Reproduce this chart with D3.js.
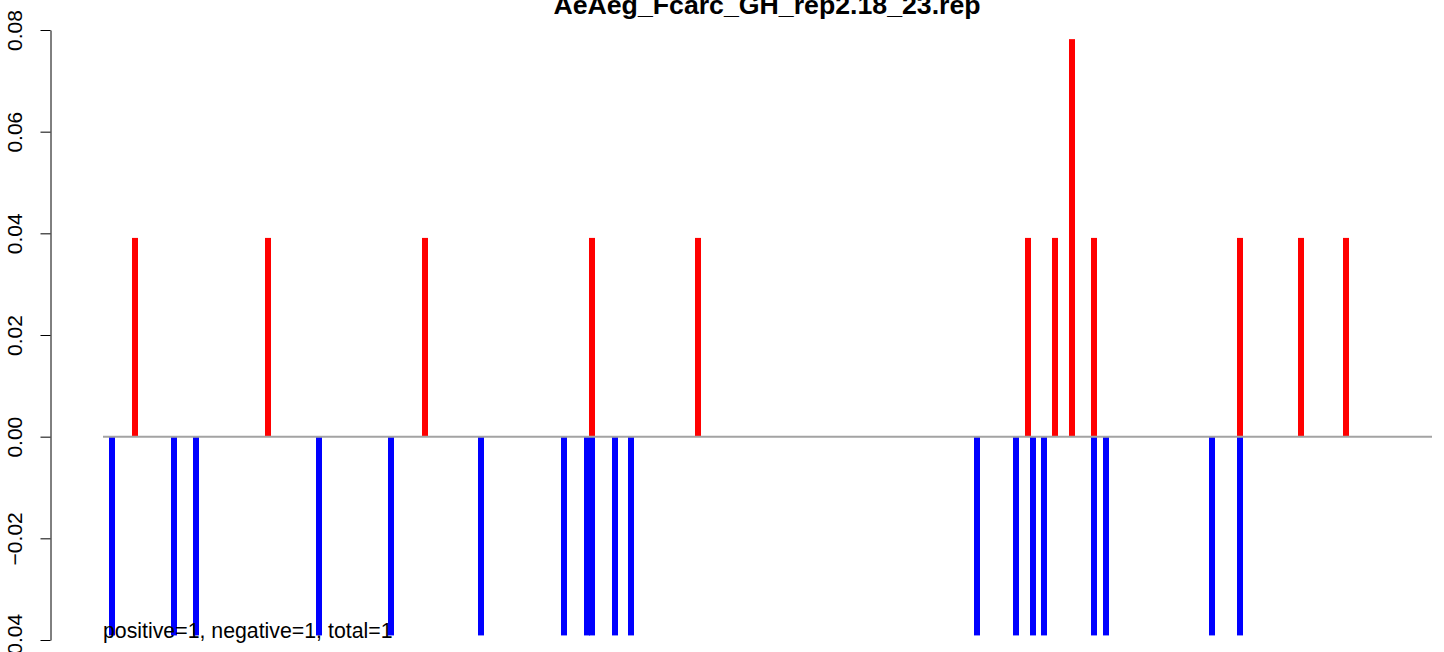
<!DOCTYPE html>
<html>
<head>
<meta charset="utf-8">
<script src="https://cdn.jsdelivr.net/npm/d3@7"></script>
<style>
  html, body { margin: 0; padding: 0; background: #fff; }
  svg { display: block; font-family: "Liberation Sans", Arial, Helvetica, sans-serif; }
</style>
</head>
<body>
<svg id="chart" width="1444" height="652"></svg>
<script>
// ---- data ----
const title = "AeAeg_Fcarc_GH_rep2.18_23.rep";
const footnote = "positive=1, negative=1, total=1";
const xExtent = [0, 1329];
const yTicks = [-0.04, -0.02, 0.00, 0.02, 0.04, 0.06, 0.08];

const positivePos = [32, 165, 322, 489, 595, 925, 952, 969, 991, 1137, 1198, 1243];
const positiveVal = [0.0391, 0.0391, 0.0391, 0.0391, 0.0391, 0.0391, 0.0391, 0.0782, 0.0391, 0.0391, 0.0391, 0.0391];

const negativePos = [9, 71, 93, 216, 288, 378, 461, 484, 489, 512, 528, 874, 913, 930, 941, 991, 1003, 1109, 1137];
const negativeVal = [-0.0391, -0.0391, -0.0391, -0.0391, -0.0391, -0.0391, -0.0391, -0.0391, -0.0391, -0.0391,
                     -0.0391, -0.0391, -0.0391, -0.0391, -0.0391, -0.0391, -0.0391, -0.0391, -0.0391];

// ---- layout ----
const svg = d3.select("#chart");
const x = d3.scaleLinear().domain(xExtent).range([103, 1432]);
const y = d3.scaleLinear().domain([-0.04, 0.08]).range([640, 30]);
const barW = 6;

const pos = positivePos.map((p, i) => ({p, v: positiveVal[i]}));
const neg = negativePos.map((p, i) => ({p, v: negativeVal[i]}));

// bars
svg.append("g").selectAll("rect").data(pos).join("rect")
  .attr("x", d => x(d.p) - barW / 2)
  .attr("width", barW)
  .attr("y", d => y(d.v))
  .attr("height", d => y(0) - y(d.v))
  .attr("fill", "#ff0000");

svg.append("g").selectAll("rect").data(neg).join("rect")
  .attr("x", d => x(d.p) - barW / 2)
  .attr("width", barW)
  .attr("y", y(0))
  .attr("height", d => y(d.v) - y(0))
  .attr("fill", "#0000ff");

// zero line
svg.append("line")
  .attr("x1", x(xExtent[0])).attr("x2", x(xExtent[1]))
  .attr("y1", y(0)).attr("y2", y(0))
  .attr("stroke", "#a3a3a3").attr("stroke-width", 2);

// y axis
const yAxis = d3.axisLeft(y)
  .tickValues(yTicks)
  .tickFormat(d3.format(".2f"))
  .tickSize(10)
  .tickSizeOuter(0);

const gy = svg.append("g").attr("transform", "translate(50.5,0)").call(yAxis);
gy.select(".domain").attr("stroke", "#000").attr("stroke-width", 1);
gy.selectAll(".tick line").attr("stroke", "#000").attr("stroke-width", 1);
gy.selectAll(".tick text")
  .attr("x", 0).attr("dy", null)
  .attr("transform", "translate(-29,0) rotate(-90)")
  .attr("text-anchor", "middle")
  .attr("fill", "#000")
  .style("font-size", "21px")
  .style("font-family", "'Liberation Sans', Arial, sans-serif");

// title
svg.append("text")
  .attr("x", 767).attr("y", 14)
  .attr("text-anchor", "middle")
  .style("font-size", "26.7px")
  .style("font-weight", "bold")
  .text(title);

// footnote
svg.append("text")
  .attr("x", 103).attr("y", 638)
  .style("font-size", "21.3px")
  .attr("fill", "#000")
  .text(footnote);
</script>
</body>
</html>
